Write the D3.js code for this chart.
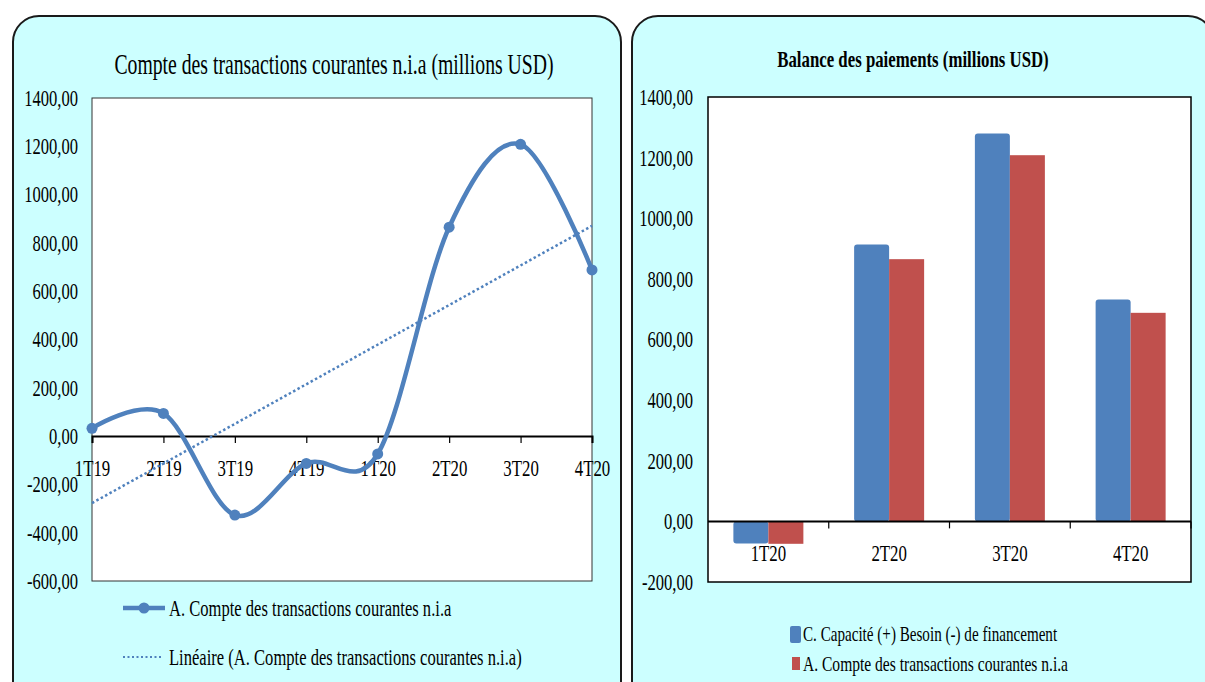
<!DOCTYPE html>
<meta charset="utf-8">
<style>
    body { margin: 0; background: #fff; }
    svg { display: block; }
    text { fill: #000; }
    .panel { fill: #ccffff; stroke: #1a1a1a; stroke-width: 2px; }
    .plot { fill: #fff; }
</style>
<svg width="1205" height="682"></svg>
<script src="https://cdnjs.cloudflare.com/ajax/libs/d3/7.8.5/d3.min.js"></script>
<script>

    // data
    var lineCats = ["1T19", "2T19", "3T19", "4T19", "1T20", "2T20", "3T20", "4T20"];
    var compteCourant = [32, 94, -327, -113, -74, 865, 1208, 688];

    var barCats = ["1T20", "2T20", "3T20", "4T20"];
    var capaciteBesoin = [-73, 913, 1280, 732];
    var compteCourant2020 = [-74, 865, 1208, 688];

    var leftTicks = [-600, -400, -200, 0, 200, 400, 600, 800, 1000, 1200, 1400];
    var rightTicks = [-200, 0, 200, 400, 600, 800, 1000, 1200, 1400];

    var blue = "#4f81bd",
        red = "#c0504d",
        FONT = '"Liberation Serif", "DejaVu Serif", serif';

    var fmt = d3.formatLocale({decimal: ",", thousands: "", grouping: [3], currency: ["", ""], minus: "-"}).format(".2f");

    // the original font is a narrow serif, squeeze the glyphs
    function squeeze(sel, k) {
        k = k || 0.7;
        sel.style("font-family", FONT).each(function () {
            var w = this.getComputedTextLength();
            d3.select(this).attr("textLength", w * k).attr("lengthAdjust", "spacingAndGlyphs");
        });
    }

    var svg = d3.select("svg");

    // panels
    svg.append("rect").attr("class", "panel")
        .attr("x", 13).attr("y", 16).attr("width", 608).attr("height", 720).attr("rx", 26);
    svg.append("rect").attr("class", "panel")
        .attr("x", 632).attr("y", 16).attr("width", 582).attr("height", 720).attr("rx", 26);

    // ---------- left chart : line ----------
    var L = {left: 92, right: 592, top: 98, bottom: 581};

    var x1 = d3.scalePoint().domain(lineCats).range([L.left, L.right]);
    var y1 = d3.scaleLinear().domain([-600, 1400]).range([L.bottom, L.top]);

    var g1 = svg.append("g");

    g1.append("rect").attr("class", "plot")
        .attr("x", L.left).attr("y", L.top)
        .attr("width", L.right - L.left).attr("height", L.bottom - L.top)
        .attr("stroke", "#333").attr("stroke-width", 1);

    svg.append("text")
        .attr("x", 334).attr("y", 74)
        .attr("text-anchor", "middle")
        .style("font-size", "29px")
        .text("Compte des transactions courantes n.i.a (millions USD)")
        .call(squeeze, 0.68);

    var yAxis1 = g1.append("g")
        .attr("transform", "translate(" + L.left + ",0)")
        .call(d3.axisLeft(y1).tickValues(leftTicks).tickFormat(fmt).tickSize(0).tickPadding(14));
    yAxis1.select(".domain").remove();
    yAxis1.selectAll("text").style("font-size", "23px").call(squeeze, 0.72);

    var xAxis1 = g1.append("g")
        .attr("transform", "translate(0," + y1(0) + ")")
        .call(d3.axisBottom(x1).tickSize(7));
    xAxis1.select(".domain").attr("stroke", "#000").attr("stroke-width", 2);
    xAxis1.selectAll(".tick line").attr("stroke", "#000").attr("stroke-width", 1.2);
    xAxis1.selectAll("text").attr("y", 40).attr("dy", 0).style("font-size", "24px").call(squeeze, 0.7);

    var line = d3.line()
        .x(function (d, i) { return x1(lineCats[i]); })
        .y(function (d) { return y1(d); })
        .curve(d3.curveCardinal.tension(0));

    g1.append("path")
        .datum(compteCourant)
        .attr("d", line)
        .attr("fill", "none")
        .attr("stroke", blue)
        .attr("stroke-width", 4.5)
        .attr("stroke-linecap", "round");

    g1.selectAll(".dot")
        .data(compteCourant)
        .enter().append("circle")
        .attr("class", "dot")
        .attr("cx", function (d, i) { return x1(lineCats[i]); })
        .attr("cy", function (d) { return y1(d); })
        .attr("r", 5.5)
        .attr("fill", blue);

    // linear trend (least squares over the series)
    var idx = d3.range(compteCourant.length),
        mx = d3.mean(idx),
        my = d3.mean(compteCourant),
        slope = d3.sum(idx, function (i) { return (i - mx) * (compteCourant[i] - my); }) /
                d3.sum(idx, function (i) { return (i - mx) * (i - mx); }),
        icpt = my - slope * mx;
    var trend = [0, compteCourant.length - 1].map(function (i) { return [x1(lineCats[i]), y1(icpt + slope * i)]; });

    g1.append("path")
        .attr("d", d3.line()(trend))
        .attr("fill", "none")
        .attr("stroke", blue)
        .attr("stroke-width", 2.5)
        .attr("stroke-dasharray", "2.5,2.5");

    // legend left
    var lg1 = svg.append("g");
    lg1.append("line").attr("x1", 123).attr("x2", 165).attr("y1", 608).attr("y2", 608)
        .attr("stroke", blue).attr("stroke-width", 4.5);
    lg1.append("circle").attr("cx", 144).attr("cy", 608).attr("r", 5.5).attr("fill", blue);
    lg1.append("text").attr("x", 169).attr("y", 616).style("font-size", "23px")
        .text("A. Compte des transactions courantes n.i.a").call(squeeze, 0.72);
    lg1.append("line").attr("x1", 123).attr("x2", 163).attr("y1", 657).attr("y2", 657)
        .attr("stroke", blue).attr("stroke-width", 2).attr("stroke-dasharray", "2,2.5");
    lg1.append("text").attr("x", 169).attr("y", 665).style("font-size", "23px")
        .text("Linéaire (A. Compte des transactions courantes n.i.a)").call(squeeze, 0.72);

    // ---------- right chart : bars ----------
    var R = {left: 708, right: 1191, top: 97, bottom: 582};

    var x2 = d3.scaleBand().domain(barCats).range([R.left, R.right]);
    var bw = x2.bandwidth();
    var xs = d3.scaleBand().domain(["c", "a"]).range([(bw - 70) / 2, (bw + 70) / 2]);
    var y2 = d3.scaleLinear().domain([-200, 1400]).range([R.bottom, R.top]);

    var g2 = svg.append("g");

    g2.append("rect").attr("class", "plot")
        .attr("x", R.left).attr("y", R.top)
        .attr("width", R.right - R.left).attr("height", R.bottom - R.top)
        .attr("stroke", "#000").attr("stroke-width", 1.5);

    svg.append("text")
        .attr("x", 913).attr("y", 67)
        .attr("text-anchor", "middle")
        .style("font-size", "23px")
        .style("font-weight", "bold")
        .text("Balance des paiements (millions USD)")
        .call(squeeze, 0.73);

    var yAxis2 = g2.append("g")
        .attr("transform", "translate(" + R.left + ",0)")
        .call(d3.axisLeft(y2).tickValues(rightTicks).tickFormat(fmt).tickSize(0).tickPadding(15));
    yAxis2.select(".domain").remove();
    yAxis2.selectAll("text").style("font-size", "23px").call(squeeze, 0.72);

    var series = [
        {key: "c", values: capaciteBesoin, color: blue, rx: 3},
        {key: "a", values: compteCourant2020, color: red, rx: 0}
    ];

    series.forEach(function (s) {
        g2.selectAll(".bar-" + s.key)
            .data(s.values)
            .enter().append("rect")
            .attr("class", "bar-" + s.key)
            .attr("x", function (d, i) { return x2(barCats[i]) + xs(s.key); })
            .attr("width", xs.bandwidth())
            .attr("y", function (d) { return y2(Math.max(0, d)); })
            .attr("height", function (d) { return Math.abs(y2(d) - y2(0)); })
            .attr("rx", s.rx)
            .attr("fill", s.color);
    });

    // zero axis with ticks between categories
    var xAxis2 = g2.append("g").attr("transform", "translate(0," + y2(0) + ")");
    xAxis2.append("line").attr("x1", R.left).attr("x2", R.right)
        .attr("stroke", "#000").attr("stroke-width", 2);
    xAxis2.selectAll(".tk")
        .data(d3.range(1, barCats.length + 1))
        .enter().append("line")
        .attr("class", "tk")
        .attr("x1", function (i) { return R.left + i * x2.step(); })
        .attr("x2", function (i) { return R.left + i * x2.step(); })
        .attr("y1", 0).attr("y2", 7)
        .attr("stroke", "#000").attr("stroke-width", 1.2);
    xAxis2.selectAll(".lbl")
        .data(barCats)
        .enter().append("text")
        .attr("class", "lbl")
        .attr("x", function (d) { return x2(d) + bw / 2; })
        .attr("y", 40)
        .attr("text-anchor", "middle")
        .style("font-size", "24px")
        .text(function (d) { return d; })
        .call(squeeze, 0.7);

    // legend right
    var lg2 = svg.append("g");
    lg2.append("rect").attr("x", 790).attr("y", 626).attr("width", 11).attr("height", 17).attr("rx", 2).attr("fill", blue);
    lg2.append("text").attr("x", 803).attr("y", 641).style("font-size", "21px")
        .text("C. Capacité (+) Besoin (-) de financement").call(squeeze, 0.72);
    lg2.append("rect").attr("x", 792).attr("y", 657).attr("width", 8).attr("height", 13).attr("fill", red);
    lg2.append("text").attr("x", 803).attr("y", 671).style("font-size", "21px")
        .text("A. Compte des transactions courantes n.i.a").call(squeeze, 0.74);

</script>
